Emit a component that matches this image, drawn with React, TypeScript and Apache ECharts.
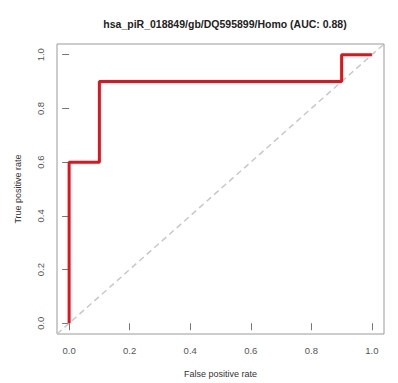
import React, { useEffect, useRef } from "react";
import * as echarts from "echarts";

const titleText = "hsa_piR_018849/gb/DQ595899/Homo (AUC: 0.88)";
const fpr = [0, 0, 0.1, 0.1, 0.9, 0.9, 1];
const tpr = [0, 0.6, 0.6, 0.9, 0.9, 1, 1];
const tickValues = [0, 0.2, 0.4, 0.6, 0.8, 1];
const diagX = [-0.04, 1.04];
const diagY = [-0.04, 1.04];

export default function App() {
  const ref = useRef<HTMLDivElement>(null);
  useEffect(() => {
    const chart = echarts.init(ref.current!, null, { renderer: "svg" });
    const font = "Liberation Sans, Arial, sans-serif";
    const axisCommon = {
      type: "value" as const,
      min: -0.04,
      max: 1.04,
      splitLine: { show: false },
      axisLine: { show: false },
      axisTick: {
        show: true,
        inside: false,
        length: 7,
        customValues: tickValues,
        lineStyle: { color: "#777", width: 1 },
      },
      nameLocation: "middle" as const,
      nameTextStyle: { color: "#333", fontSize: 9, fontFamily: font },
    };
    chart.setOption({
      animation: false,
      backgroundColor: "#fff",
      title: {
        text: titleText,
        left: 220,
        textAlign: "center",
        top: 13,
        textStyle: { fontSize: 10.5, fontWeight: "bold", color: "#222", fontFamily: font },
      },
      grid: {
        left: 57,
        right: 14,
        top: 44,
        bottom: 46,
        show: true,
        borderColor: "#999",
        borderWidth: 1,
      },
      xAxis: {
        ...axisCommon,
        name: "False positive rate",
        nameGap: 35,
        axisLabel: {
          customValues: tickValues,
          formatter: (v: number) => v.toFixed(1),
          color: "#555",
          fontSize: 9.5,
          fontFamily: font,
          margin: 11,
        },
      },
      yAxis: {
        ...axisCommon,
        name: "True positive rate",
        nameGap: 35,
        axisLabel: {
          customValues: tickValues,
          formatter: (v: number) => v.toFixed(1),
          color: "#555",
          fontSize: 9.5,
          fontFamily: font,
          rotate: 90,
          margin: 12,
        },
      },
      series: [
        {
          type: "line",
          data: diagX.map((x, i) => [x, diagY[i]]),
          symbol: "none",
          lineStyle: { color: "#c8c8c8", width: 1.5, type: [6, 4] },
          z: 1,
        },
        {
          type: "line",
          data: fpr.map((x, i) => [x, tpr[i]]),
          symbol: "none",
          lineStyle: { color: "#e4121a", width: 3 },
          z: 2,
        },
      ],
    });
    return () => chart.dispose();
  }, []);
  return <div ref={ref} style={{ width: 398, height: 383, position: "absolute", left: 0, top: 0 }} />;
}
